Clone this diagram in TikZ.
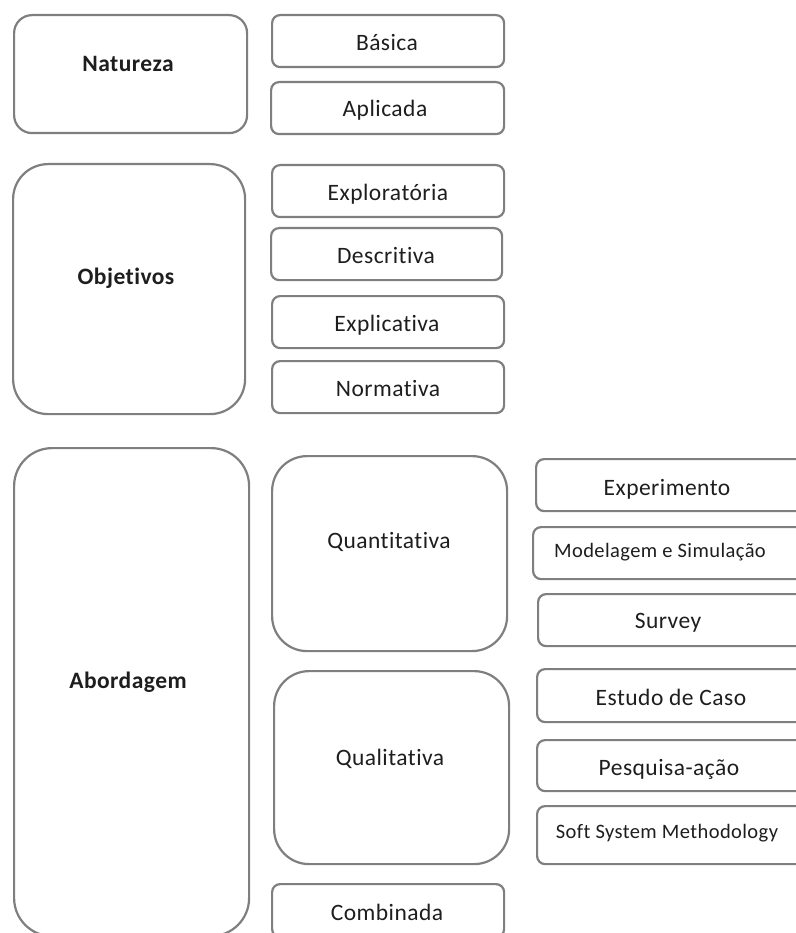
\documentclass[tikz,border=0pt]{standalone}
\usepackage{fontspec}
\setmainfont{Carlito}[Ligatures=NoCommon, LetterSpace=2]
\definecolor{boxgray}{HTML}{7F7F7F}
\definecolor{txt}{HTML}{1E1E1E}
\begin{document}
\begin{tikzpicture}[x=1pt,y=-1pt,
  bx/.style={draw=boxgray, line width=2.2pt, rounded corners=8pt, anchor=north west, inner sep=0pt, fill=white},
  lbl/.style={anchor=base, inner sep=0pt, text=txt, font=\fontsize{23.5}{28}\selectfont},
  blbl/.style={lbl, font=\fontsize{23.5}{28}\selectfont\bfseries},
  slbl/.style={lbl, font=\fontsize{20.5}{24}\selectfont}]
\useasboundingbox (0,0) rectangle (795,933);
% left column
\node[bx, rounded corners=18pt, minimum width=233pt, minimum height=118pt] (nat) at (13,14) {};
\node[bx, rounded corners=35pt, minimum width=232pt, minimum height=250pt] (obj) at (12,163) {};
\node[bx, rounded corners=38pt, minimum width=235pt, minimum height=488pt] (abo) at (13,447) {};
% middle column
\node[bx, minimum width=232pt, minimum height=52pt] (bas) at (271,14) {};
\node[bx, minimum width=233pt, minimum height=52pt] (apl) at (270,81) {};
\node[bx, minimum width=232pt, minimum height=52pt] (explo) at (271,164) {};
\node[bx, minimum width=231pt, minimum height=52pt] (desc) at (270,227) {};
\node[bx, minimum width=232pt, minimum height=52pt] (expli) at (271,295) {};
\node[bx, minimum width=232pt, minimum height=52pt] (norm) at (271,360) {};
\node[bx, rounded corners=35pt, minimum width=235pt, minimum height=195pt] (quant) at (271,455) {};
\node[bx, rounded corners=35pt, minimum width=235pt, minimum height=193pt] (qual) at (273,670) {};
\node[bx, minimum width=232pt, minimum height=53pt] (comb) at (271,883) {};
% right column
\node[bx, minimum width=270pt, minimum height=52pt] (expe) at (535,458) {};
\node[bx, minimum width=273pt, minimum height=52pt] (mod) at (532,526) {};
\node[bx, minimum width=268pt, minimum height=52pt] (surv) at (537,593) {};
\node[bx, minimum width=269pt, minimum height=53pt] (est) at (536,668) {};
\node[bx, minimum width=269pt, minimum height=51pt] (pesq) at (536,739) {};
\node[bx, minimum width=269pt, minimum height=58pt] (soft) at (536,805) {};
% labels
\node[blbl] (natT) at (128,72) {Natureza};
\node[blbl] (objT) at (126,284) {Objetivos};
\node[blbl] (aboT) at (128,688) {Abordagem};
\node[lbl] (basT) at (387,51) {Básica};
\node[lbl] (aplT) at (385,117) {Aplicada};
\node[lbl] (exploT) at (388,201) {Exploratória};
\node[lbl] (descT) at (386,263) {Descritiva};
\node[lbl] (expliT) at (387,331) {Explicativa};
\node[lbl] (normT) at (388,396) {Normativa};
\node[lbl] (quantT) at (389,548) {Quantitativa};
\node[lbl] (qualT) at (390,765) {Qualitativa};
\node[lbl] (combT) at (387,920) {Combinada};
\node[lbl] (expeT) at (667,495) {Experimento};
\node[slbl] (modT) at (660,557) {Modelagem e Simulação};
\node[lbl] (survT) at (668,628) {Survey};
\node[lbl] (estT) at (671,705) {Estudo de Caso};
\node[lbl] (pesqT) at (669,775) {Pesquisa-ação};
\node[slbl] (softT) at (667,838) {Soft System Methodology};
\end{tikzpicture}
\end{document}
